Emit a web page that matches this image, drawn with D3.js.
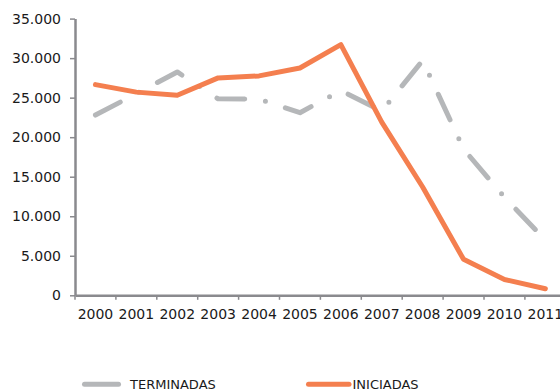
<!DOCTYPE html>
<html><head><meta charset="utf-8">
<script src="https://cdn.jsdelivr.net/npm/d3@7"></script>
<style>html,body{margin:0;padding:0;background:#fff;overflow:hidden}</style>
</head><body><svg id="c" width="560" height="389"></svg>
<script>
const years = ["2000","2001","2002","2003","2004","2005","2006","2007","2008","2009","2010","2011"];
const terminadas = [22800, 25500, 28250, 24850, 24800, 23100, 25900, 23300, 29700, 18500, 12400, 7000];
const iniciadas = [26650, 25700, 25300, 27500, 27750, 28750, 31700, 21900, 13700, 4550, 2000, 830];
const yTicks = [0, 5000, 10000, 15000, 20000, 25000, 30000, 35000];
const seriesNames = ["TERMINADAS", "INICIADAS"];

const svg = d3.select("#c");
const fmt = d3.formatLocale({decimal:",", thousands:".", grouping:[3], currency:["",""]}).format(",");
const x = d3.scaleBand().domain(years).range([75, 75 + 12*40.9]);
const y = d3.scaleLinear().domain([0, 35000]).range([295.3, 18.6]);
const font = "DejaVu Sans, Verdana, sans-serif";
const axisCol = "#8a8a8e";
const gray = "#b5b7b9", orange = "#f47f4f";

// y axis
const ya = svg.append("g").attr("transform","translate(75,0)")
  .call(d3.axisLeft(y).tickValues(yTicks).tickFormat(fmt).tickSizeInner(5).tickSizeOuter(0).tickPadding(9));
ya.select(".domain").attr("stroke", axisCol).attr("stroke-width", 2.5);
ya.selectAll(".tick line").attr("stroke", axisCol).attr("stroke-width", 1.5);
ya.selectAll("text").attr("font-family", font).attr("font-size", 14).attr("fill", "#1a1a1a");

// x axis
const xa = svg.append("g").attr("transform","translate(0,295.3)")
  .call(d3.axisBottom(x).tickSize(0).tickPadding(14));
xa.select(".domain").attr("stroke", axisCol).attr("stroke-width", 2.5);
xa.selectAll("text").attr("font-family", font).attr("font-size", 14).attr("fill", "#1a1a1a");
xa.selectAll(".bt").data(years).enter().append("line")
  .attr("x1", d => x(d)).attr("x2", d => x(d)).attr("y1", 0).attr("y2", 4.5)
  .attr("stroke", axisCol).attr("stroke-width", 1.5);

const line = d3.line().x((d,i) => x(years[i]) + x.bandwidth()/2).y(d => y(d));

svg.append("path").datum(terminadas).attr("d", line)
  .attr("fill","none").attr("stroke", gray).attr("stroke-width", 5)
  .attr("stroke-linecap","round").attr("stroke-linejoin","round")
  .attr("stroke-dasharray","28,21,0,21");

svg.append("path").datum(iniciadas).attr("d", line)
  .attr("fill","none").attr("stroke", orange).attr("stroke-width", 5)
  .attr("stroke-linejoin","round").attr("stroke-linecap","round");

// legend
const leg = [{name: seriesNames[0], c: gray, x1: 84.5, x2: 118.5, tx: 130},
             {name: seriesNames[1], c: orange, x1: 308.5, x2: 349, tx: 352.5}];
leg.forEach(l => {
  svg.append("line").attr("x1", l.x1).attr("x2", l.x2).attr("y1", 384.3).attr("y2", 384.3)
    .attr("stroke", l.c).attr("stroke-width", 5).attr("stroke-linecap","round");
  svg.append("text").attr("x", l.tx).attr("y", 388.8).text(l.name)
    .attr("font-family", font).attr("font-size", 13).attr("fill", "#1a1a1a");
});
</script></body></html>
